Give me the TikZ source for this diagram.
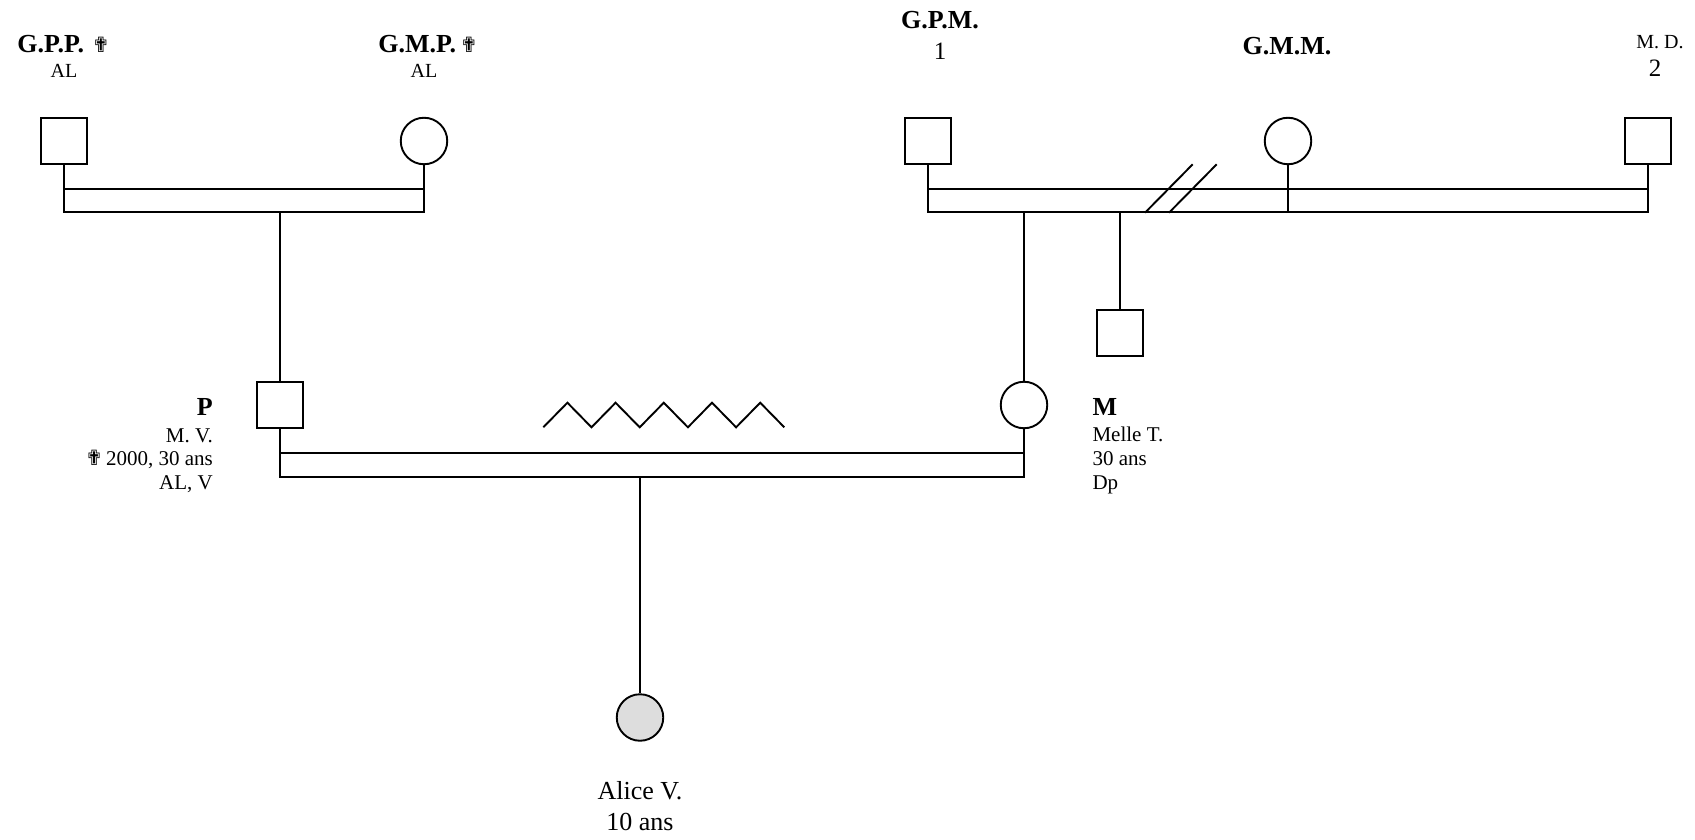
\documentclass[tikz,border=0pt]{standalone}
\usepackage{fontspec}
\setmainfont{Liberation Serif}
\newfontfamily\symfont{DejaVu Sans}
\newcommand\dcross{{\symfont\fontsize{21}{21}\selectfont ✟}}
\definecolor{childgray}{RGB}{221,221,221}
\begin{document}
\begin{tikzpicture}[x=1pt,y=-1pt,
  ln/.style={line width=1.9pt},
  male/.style={draw, line width=1.9pt, rectangle, minimum size=46.5pt, inner sep=0pt},
  female/.style={draw, line width=1.9pt, circle, minimum size=46.5pt, inner sep=0pt},
  boldlbl/.style={inner sep=0pt, anchor=base, font=\bfseries\fontsize{26}{30}\selectfont},
  info/.style={inner sep=0pt, anchor=base, font=\fontsize{20}{24}\selectfont},
  numlbl/.style={inner sep=0pt, anchor=base, font=\fontsize{25}{30}\selectfont},
  side/.style={inner sep=0pt, font=\fontsize{21}{24}\selectfont},
  big/.style={inner sep=0pt, anchor=base, font=\fontsize{26}{30}\selectfont},
]
\useasboundingbox (0,0) rectangle (1695,840);

% persons
\node[male] (gpp) at (64,141) {};
\node[female] (gmp) at (424,141) {};
\node[male] (gpm) at (928,141) {};
\node[female] (gmm) at (1288,141) {};
\node[male] (md) at (1648,141) {};
\node[male] (uncle) at (1120,333) {};
\node[male] (p) at (280,405) {};
\node[female] (m) at (1024,405) {};
\node[female, fill=childgray] (alice) at (640,717.5) {};

% left union
\coordinate (lb1) at (64,189);
\coordinate (lb2) at (424,212);
\draw[ln] (lb1) rectangle (lb2);
\draw[ln] (gpp.south) -- (gpp.south |- lb2);
\draw[ln] (gmp.south) -- (gmp.south |- lb2);
\draw[ln] (p.north |- lb2) -- (p.north);

% right union
\coordinate (rb1) at (928,189);
\coordinate (rb2) at (1648,212);
\draw[ln] (rb1) rectangle (rb2);
\draw[ln] (gpm.south) -- (gpm.south |- rb1);
\draw[ln] (md.south) -- (md.south |- rb1);
\draw[ln] (gmm.south) -- (gmm.south |- rb2);
\draw[ln] (m.north |- rb2) -- (m.north);
\draw[ln] (uncle.north |- rb2) -- (uncle.north);
\coordinate (s1a) at (1145,212.7);
\coordinate (s1b) at (1192.7,164.3);
\coordinate (s2a) at (1169,212.7);
\coordinate (s2b) at (1216.7,164.3);
\draw[ln] (s1a) -- (s1b);
\draw[ln] (s2a) -- (s2b);

% bottom union
\coordinate (bb1) at (280,453);
\coordinate (bb2) at (1024,477);
\draw[ln] (bb1) rectangle (bb2);
\draw[ln] (p.south) -- (p.south |- bb1);
\draw[ln] (m.south) -- (m.south |- bb1);
\draw[ln] (alice.north |- bb2) -- (alice.north);

% conflict zigzag
\coordinate (zz) at (543.3,427.3);
\draw[ln, line join=miter] (zz) \foreach \i in {1,...,5} { -- ++(24.1,-24.6) -- ++(24.1,24.6) };

% labels
\node[boldlbl] (tgpp) at (63.5,52.3) {G.P.P.\hspace{8pt}\dcross};
\node[info] (tgpp2) at (64,77.7) {AL};
\node[boldlbl] (tgmp) at (428,52.3) {G.M.P.\hspace{4pt}\dcross};
\node[info] (tgmp2) at (424,77.7) {AL};
\node[boldlbl] (tgpm) at (940,29) {G.P.M.};
\node[numlbl] (tgpm2) at (940,60) {1};
\node[boldlbl] (tgmm) at (1287,55) {G.M.M.};
\node[info] (tmd) at (1660,48.3) {M. D.};
\node[numlbl] (tmd2) at (1655,76.7) {2};

\node[boldlbl, anchor=base east] (tp) at (213,415.7) {P};
\node[side, anchor=base east] (tp1) at (213,442) {M. V.};
\node[side, anchor=base east] (tp2) at (213,465.7) {\dcross\hspace{3pt}2000, 30 ans};
\node[side, anchor=base east] (tp3) at (213,489) {AL, V};

\node[boldlbl, anchor=base west] (tm) at (1092.3,415.7) {M};
\node[side, anchor=base west] (tm1) at (1092.3,441) {Melle T.};
\node[side, anchor=base west] (tm2) at (1092.3,465) {30 ans};
\node[side, anchor=base west] (tm3) at (1092.3,489) {Dp};

\node[big] (ta1) at (640,799) {Alice V.};
\node[big] (ta2) at (640,830) {10 ans};
\end{tikzpicture}
\end{document}
